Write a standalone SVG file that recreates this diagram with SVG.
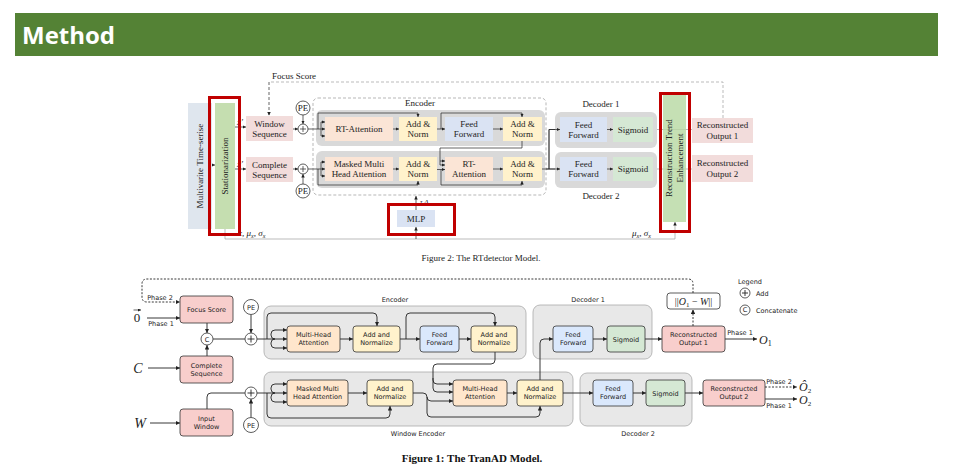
<svg xmlns="http://www.w3.org/2000/svg" width="953" height="473" viewBox="0 0 953 473">
<defs>
<style>
.t{font-family:"Liberation Serif",serif;font-size:9px;fill:#222;text-anchor:middle}
.b{font-family:"DejaVu Sans",sans-serif;font-size:6.5px;fill:#222;text-anchor:middle}
.bs{font-family:"DejaVu Sans",sans-serif;font-size:6.5px;fill:#222;text-anchor:start}
.m{font-family:"Liberation Serif","DejaVu Serif",serif;font-style:italic;fill:#222}
.mc{font-family:"Liberation Serif","DejaVu Serif",serif;font-style:italic;fill:#222;text-anchor:middle}
.u{font-family:"Liberation Serif","DejaVu Serif",serif;fill:#222;text-anchor:middle}
.ln{stroke:#222;stroke-width:0.7;fill:none}
.gl{stroke:#aaa;stroke-width:0.8;fill:none}
.bl{stroke:#222;stroke-width:0.9;fill:none}
.red{fill:none;stroke:#c00000;stroke-width:3}
.tg{fill:#d9d9d9}
.bg{fill:#e8e8e8;stroke:#aaa;stroke-width:0.8}
.bx{stroke:#333;stroke-width:0.8}
.cir{fill:#fff;stroke:#333;stroke-width:0.8}
</style>
<marker id="ta" viewBox="0 0 6 6" refX="6" refY="3" markerWidth="3.5" markerHeight="3.5" markerUnits="userSpaceOnUse" orient="auto"><path d="M0,0 L6,3 L0,6 z" fill="#222"/></marker>
<marker id="ba" viewBox="0 0 6 6" refX="6" refY="3" markerWidth="4.5" markerHeight="4.5" markerUnits="userSpaceOnUse" orient="auto"><path d="M0,0 L6,3 L0,6 z" fill="#222"/></marker>
<marker id="va" viewBox="0 0 6 6" refX="6" refY="3" markerWidth="3" markerHeight="3" markerUnits="userSpaceOnUse" orient="auto"><path d="M0,0 L6,3 L0,6 z" fill="#222"/></marker>
</defs>
<rect width="953" height="473" fill="#fff"/>

<g id="header">
<rect x="15" y="13" width="923" height="43" fill="#548235"/>
<text x="22" y="44" font-family="'Open Sans',sans-serif" font-weight="bold" font-size="24" fill="#fff">Method</text>
</g>

<!-- ================= Figure 2 (top) ================= -->
<g id="top-connectors">
<path d="M723,118 V82 H269" class="gl" stroke-dasharray="3,2"/>
<path d="M269,82 V115.5" class="ln" stroke-dasharray="3,2" marker-end="url(#ta)"/>
<path d="M209,165 H215" class="ln" marker-end="url(#ta)"/>
<path d="M235,127 H246" class="ln" marker-end="url(#ta)"/>
<path d="M235,169 H246" class="ln" marker-end="url(#ta)"/>
<path d="M293,129 H298" class="ln" marker-end="url(#ta)"/>
<path d="M293,169 H298" class="ln" marker-end="url(#ta)"/>
<path d="M303,115 V124" class="ln" marker-end="url(#ta)"/>
<path d="M303,184 V174" class="ln" marker-end="url(#ta)"/>
<path d="M653,129.5 H692" class="gl"/>
<path d="M653,169 H692" class="gl"/>
<path d="M225,229 V239 H675 V222" class="gl" marker-end="url(#ta)"/>
<path d="M416,239 V227" class="ln" marker-end="url(#ta)"/>
<path d="M416,210 V196" class="ln" marker-end="url(#ta)"/>
</g>

<text class="t" x="294" y="79">Focus Score</text>

<g id="multivariate">
<rect x="188" y="103" width="24" height="126" fill="#dfe6ee"/>
<text class="t" transform="translate(203,166) rotate(-90)">Multivarite Time-serise</text>
</g>
<g id="stationarization">
<rect x="215" y="103" width="20" height="126" fill="#c5deb0"/>
<text class="t" transform="translate(228,166) rotate(-90)">Stationarization</text>
</g>
<text class="m" x="237" y="125" font-size="9">x′</text>
<text class="m" x="237" y="167" font-size="9">x′</text>
<text class="m" x="238" y="236" font-size="9">x, μ<tspan font-size="6" dy="1.5">x</tspan><tspan dy="-1.5">, σ</tspan><tspan font-size="6" dy="1.5">x</tspan></text>
<text class="m" x="632" y="236" font-size="9">μ<tspan font-size="6" dy="1.5">x</tspan><tspan dy="-1.5">, σ</tspan><tspan font-size="6" dy="1.5">x</tspan></text>
<rect class="red" x="209.5" y="97.5" width="30" height="137"/>

<g id="window-seq">
<rect x="246" y="116" width="47" height="25" fill="#f2dcdb"/>
<text class="t" x="269.5" y="126.5">Window</text>
<text class="t" x="269.5" y="137">Sequence</text>
</g>
<g id="complete-seq">
<rect x="246" y="157" width="47" height="25" fill="#f2dcdb"/>
<text class="t" x="269.5" y="167.5">Complete</text>
<text class="t" x="269.5" y="178">Sequence</text>
</g>
<g id="pe-top">
<circle cx="303" cy="108" r="7" class="cir"/>
<text class="t" x="303" y="111" font-size="8">PE</text>
</g>
<g id="plus-top">
<circle cx="303" cy="129" r="5" class="cir"/>
<path d="M300,129 H306 M303,126 V132" class="ln"/>
</g>
<g id="plus-top2">
<circle cx="303" cy="169" r="5" class="cir"/>
<path d="M300,169 H306 M303,166 V172" class="ln"/>
</g>
<g id="pe-top2">
<circle cx="303" cy="191" r="7" class="cir"/>
<text class="t" x="303" y="194" font-size="8">PE</text>
</g>

<g id="encoder-top">
<rect x="313" y="98" width="233" height="97" rx="5" fill="none" stroke="#999" stroke-width="0.7" stroke-dasharray="3,2"/>
<text class="t" x="420" y="106">Encoder</text>
<rect class="tg" x="316" y="110" width="229" height="36" rx="6"/>
<rect class="tg" x="316" y="151" width="229" height="37" rx="6"/>
</g>
<g id="encoder-top-connectors">
<path d="M318,129 V113 H418 V117" class="ln" marker-end="url(#ta)"/>
<path d="M441,129 V113 H522 V117" class="ln" marker-end="url(#ta)"/>
<path d="M308,129 H325" class="ln" marker-end="url(#ta)"/>
<path d="M321,122 V136" class="ln"/>
<path d="M321,122 H325" class="ln" marker-end="url(#ta)"/>
<path d="M321,136 H325" class="ln" marker-end="url(#ta)"/>
<path d="M522,141 V148 H440 V165" class="ln"/>
<path d="M440,161 H445" class="ln" marker-end="url(#ta)"/>
<path d="M440,165 H445" class="ln" marker-end="url(#ta)"/>
<path d="M308,169 H325" class="ln" marker-end="url(#ta)"/>
<path d="M321,162 V176" class="ln"/>
<path d="M321,162 H325" class="ln" marker-end="url(#ta)"/>
<path d="M321,176 H325" class="ln" marker-end="url(#ta)"/>
<path d="M318,169 V185 H418 V181" class="ln" marker-end="url(#ta)"/>
<path d="M437,169.5 H445" class="ln" marker-end="url(#ta)"/>
<path d="M441,169.5 V185 H522 V181" class="ln" marker-end="url(#ta)"/>
<path d="M393,129 H399" class="ln" marker-end="url(#ta)"/>
<path d="M437,129 H445" class="ln" marker-end="url(#ta)"/>
<path d="M493,129 H503" class="ln" marker-end="url(#ta)"/>
<path d="M393,169 H399" class="ln" marker-end="url(#ta)"/>
<path d="M493,169 H503" class="ln" marker-end="url(#ta)"/>
<path d="M542,169 H560" class="ln" marker-end="url(#ta)"/>
<path d="M549,169 V129.5 H560" class="ln" marker-end="url(#ta)"/>
<path d="M607,129.5 H613" class="ln" marker-end="url(#ta)"/>
<path d="M607,169 H613" class="ln" marker-end="url(#ta)"/>
</g>
<g id="rt-attention">
<rect x="325" y="117" width="68" height="24" fill="#fbe5d6"/>
<text class="t" x="359" y="132">RT-Attention</text>
</g>
<g id="addnorm-1">
<rect x="399" y="117" width="38" height="24" fill="#fff2cc"/>
<text class="t" x="418" y="127">Add &amp;</text>
<text class="t" x="418" y="137">Norm</text>
</g>
<g id="ff-1">
<rect x="445" y="117" width="48" height="24" fill="#dae3f3"/>
<text class="t" x="469" y="127">Feed</text>
<text class="t" x="469" y="137">Forward</text>
</g>
<g id="addnorm-2">
<rect x="503" y="117" width="39" height="24" fill="#fff2cc"/>
<text class="t" x="522.5" y="127">Add &amp;</text>
<text class="t" x="522.5" y="137">Norm</text>
</g>
<g id="masked-top">
<rect x="325" y="157" width="68" height="24" fill="#fbe5d6"/>
<text class="t" x="359" y="167">Masked Multi</text>
<text class="t" x="359" y="177">Head Attention</text>
</g>
<g id="addnorm-3">
<rect x="399" y="157" width="38" height="24" fill="#fff2cc"/>
<text class="t" x="418" y="167">Add &amp;</text>
<text class="t" x="418" y="177">Norm</text>
</g>
<g id="rt-attention-2">
<rect x="445" y="157" width="48" height="24" fill="#fbe5d6"/>
<text class="t" x="469" y="167">RT-</text>
<text class="t" x="469" y="177">Attention</text>
</g>
<g id="addnorm-4">
<rect x="503" y="157" width="39" height="24" fill="#fff2cc"/>
<text class="t" x="522.5" y="167">Add &amp;</text>
<text class="t" x="522.5" y="177">Norm</text>
</g>

<g id="decoder1-top">
<rect class="tg" x="555" y="112" width="102" height="36" rx="6"/>
<text class="t" x="601" y="107">Decoder 1</text>
<rect x="560" y="117" width="47" height="25" fill="#dae3f3"/>
<text class="t" x="583.5" y="127.5">Feed</text>
<text class="t" x="583.5" y="137.5">Forward</text>
<rect x="613" y="117" width="40" height="25" fill="#d5e8d4"/>
<text class="t" x="633" y="132.5">Sigmoid</text>
</g>
<g id="decoder2-top">
<rect class="tg" x="555" y="152" width="102" height="36" rx="6"/>
<text class="t" x="601" y="199">Decoder 2</text>
<rect x="560" y="157" width="47" height="24" fill="#dae3f3"/>
<text class="t" x="583.5" y="167">Feed</text>
<text class="t" x="583.5" y="177">Forward</text>
<rect x="613" y="157" width="40" height="24" fill="#d5e8d4"/>
<text class="t" x="633" y="172">Sigmoid</text>
</g>
<g id="decoder-top-arrows">
<path d="M607,129.5 H613" class="ln" marker-end="url(#ta)"/>
<path d="M607,169 H613" class="ln" marker-end="url(#ta)"/>
<path d="M549,169 V129.5 H560" class="ln" marker-end="url(#ta)"/>
<path d="M546,169 H560" class="ln" marker-end="url(#ta)"/>
</g>
<g id="rte">
<rect x="663" y="95" width="23" height="127" fill="#c5e0b4"/>
<path d="M663,129.5 H686 M663,169 H686" stroke="#b0c9a0" stroke-width="0.6"/>
<text class="t" transform="translate(672,158) rotate(-90)">Reconstruction Trend</text>
<text class="t" transform="translate(683,158) rotate(-90)">Enhancement</text>
<rect class="red" x="660.5" y="93.5" width="29" height="138"/>
</g>
<g id="recon1-top">
<rect x="692" y="118" width="61" height="25" fill="#f2dcdb"/>
<text class="t" x="722.5" y="128">Reconstructed</text>
<text class="t" x="722.5" y="138.5">Output 1</text>
</g>
<g id="recon2-top">
<rect x="692" y="155" width="61" height="27" fill="#f2dcdb"/>
<text class="t" x="722.5" y="166">Reconstructed</text>
<text class="t" x="722.5" y="176.5">Output 2</text>
</g>
<g id="mlp">
<rect x="397" y="210" width="38" height="17" fill="#dae3f3"/>
<text class="t" x="416" y="221.5">MLP</text>
<text class="m" x="420" y="204" font-size="7">τ,Δ</text>
<rect class="red" x="388.5" y="204.5" width="66" height="30"/>
</g>
<text class="t" x="481" y="261" font-size="8.5">Figure 2: The RTdetector Model.</text>

<!-- ================= Figure 1 (bottom) ================= -->
<g id="bottom-containers">
<rect class="bg" x="264" y="306" width="262" height="53" rx="7"/>
<rect class="bg" x="264" y="372" width="309" height="54" rx="7"/>
<rect class="bg" x="533" y="305" width="119" height="54" rx="7"/>
<rect class="bg" x="580" y="373" width="112" height="53" rx="7"/>
<text class="b" x="395" y="302">Encoder</text>
<text class="b" x="418" y="436">Window Encoder</text>
<text class="b" x="588" y="302">Decoder 1</text>
<text class="b" x="638" y="436">Decoder 2</text>
</g>

<g id="bottom-connectors">
<path d="M693,293 V284 Q693,279 688,279 H147 Q142,279 142,284 V297 Q142,302 147,302 H180" class="bl" stroke-dasharray="2,1.5" marker-end="url(#ba)"/>
<path d="M693,326 V309.5" class="bl" stroke-dasharray="2,1.5" marker-end="url(#ba)"/>
<path d="M147,318 H180" class="bl" marker-end="url(#ba)"/>
<path d="M207,323 V333" class="bl" marker-end="url(#ba)"/>
<path d="M207,356 V345" class="bl" marker-end="url(#ba)"/>
<path d="M148,368 H180" class="bl" marker-end="url(#ba)"/>
<path d="M213,339 H245" class="bl"/>
<path d="M251,314.5 V333" class="bl" marker-end="url(#ba)"/>
<path d="M257,339 H287" class="bl" marker-end="url(#ba)"/>
<path d="M275,339 Q271,339 271,335 V334 Q271,330 275,330 H287" class="bl" marker-end="url(#ba)"/>
<path d="M275,339 Q271,339 271,343 V344 Q271,348 275,348 H287" class="bl" marker-end="url(#ba)"/>
<path d="M267,339 V317 Q267,313 271,313 H373 Q377,313 377,317 V326" class="bl" marker-end="url(#ba)"/>
<path d="M340,339 H353" class="bl" marker-end="url(#ba)"/>
<path d="M400,339 H420" class="bl" marker-end="url(#ba)"/>
<path d="M406,339 V317 Q406,313 410,313 H491 Q495,313 495,317 V326" class="bl" marker-end="url(#ba)"/>
<path d="M459,339 H471" class="bl" marker-end="url(#ba)"/>
<path d="M495,352 V360 Q495,364 491,364 H437 Q433,364 433,368 V380 Q433,384 437,384 H453" class="bl" marker-end="url(#ba)"/>
<path d="M433,378 V388 Q433,392 437,392 H453" class="bl" marker-end="url(#ba)"/>
<path d="M207,409 V397 Q207,393 211,393 H245" class="bl"/>
<path d="M251,417.5 V399" class="bl" marker-end="url(#ba)"/>
<path d="M150,423 H180" class="bl" marker-end="url(#ba)"/>
<path d="M257,393 H287" class="bl" marker-end="url(#ba)"/>
<path d="M275,393 Q271,393 271,389 V388 Q271,384 275,384 H287" class="bl" marker-end="url(#ba)"/>
<path d="M275,393 Q271,393 271,397 V398 Q271,402 275,402 H287" class="bl" marker-end="url(#ba)"/>
<path d="M267,393 V414 Q267,418 271,418 H386 Q390,418 390,414 V406" class="bl" marker-end="url(#ba)"/>
<path d="M348,393 H367" class="bl" marker-end="url(#ba)"/>
<path d="M413,393 H423 Q427,393 427,397 V397 Q427,401 431,401 H453" class="bl" marker-end="url(#ba)"/>
<path d="M427,397 V413 Q427,417 431,417 H536 Q540,417 540,413 V406" class="bl" marker-end="url(#ba)"/>
<path d="M507,393 H517" class="bl" marker-end="url(#ba)"/>
<path d="M563,393 H593" class="bl" marker-end="url(#ba)"/>
<path d="M540,380 V343 Q540,339 544,339 H553" class="bl" marker-end="url(#ba)"/>
<path d="M593,339 H607" class="bl" marker-end="url(#ba)"/>
<path d="M645,339 H662" class="bl" marker-end="url(#ba)"/>
<path d="M725,339 H757" class="bl" marker-end="url(#ba)"/>
<path d="M633,393 H646" class="bl" marker-end="url(#ba)"/>
<path d="M685,393 H703" class="bl" marker-end="url(#ba)"/>
<path d="M765,387 H797" class="bl" stroke-dasharray="2,1.5" marker-end="url(#ba)"/>
<path d="M765,399 H797" class="bl" marker-end="url(#ba)"/>
</g>

<text class="b" x="160" y="300" font-size="6">Phase 2</text>
<text class="b" x="161" y="326" font-size="6">Phase 1</text>
<text class="u" x="137" y="322" font-size="13">0</text>
<path d="M133.5,310 H141" stroke="#222" stroke-width="0.7" marker-end="url(#va)"/>
<text class="mc" x="138" y="373" font-size="14">C</text>
<text class="mc" x="140" y="428" font-size="14">W</text>

<g id="focus-score">
<rect class="bx" x="180" y="296" width="53" height="27" rx="3" fill="#f8cecc"/>
<text class="b" x="206.5" y="312">Focus Score</text>
</g>
<g id="concat">
<circle cx="207" cy="339" r="6" class="cir"/>
<text class="b" x="207" y="341.5">C</text>
</g>
<g id="complete-seq-b">
<rect class="bx" x="180" y="356" width="53" height="27" rx="3" fill="#f8cecc"/>
<text class="b" x="206.5" y="367.5">Complete</text>
<text class="b" x="206.5" y="375.5">Sequence</text>
</g>
<g id="input-window">
<rect class="bx" x="180" y="409" width="53" height="27" rx="3" fill="#f8cecc"/>
<text class="b" x="206.5" y="420.5">Input</text>
<text class="b" x="206.5" y="428.5">Window</text>
</g>
<g id="pe-b1">
<circle cx="251" cy="307" r="7.5" class="cir"/>
<text class="b" x="251" y="310" font-size="8">PE</text>
</g>
<g id="plus-b1">
<circle cx="251" cy="339" r="6" class="cir"/>
<path d="M247.5,339 H254.5 M251,335.5 V342.5" class="bl"/>
</g>
<g id="plus-b2">
<circle cx="251" cy="393" r="6" class="cir"/>
<path d="M247.5,393 H254.5 M251,389.5 V396.5" class="bl"/>
</g>
<g id="pe-b2">
<circle cx="251" cy="425" r="7.5" class="cir"/>
<text class="b" x="251" y="428" font-size="8">PE</text>
</g>

<g id="mha-enc">
<rect class="bx" x="287" y="326" width="53" height="26" rx="3" fill="#ffe6cc"/>
<text class="b" x="313.5" y="337">Multi-Head</text>
<text class="b" x="313.5" y="345">Attention</text>
</g>
<g id="an-enc1">
<rect class="bx" x="353" y="326" width="47" height="26" rx="3" fill="#fff2cc"/>
<text class="b" x="376.5" y="337">Add and</text>
<text class="b" x="376.5" y="345">Normalize</text>
</g>
<g id="ff-enc">
<rect class="bx" x="420" y="326" width="39" height="26" rx="3" fill="#dae8fc"/>
<text class="b" x="439.5" y="337">Feed</text>
<text class="b" x="439.5" y="345">Forward</text>
</g>
<g id="an-enc2">
<rect class="bx" x="471" y="326" width="46" height="26" rx="3" fill="#fff2cc"/>
<text class="b" x="494" y="337">Add and</text>
<text class="b" x="494" y="345">Normalize</text>
</g>
<g id="masked-b">
<rect class="bx" x="287" y="380" width="61" height="26" rx="3" fill="#ffe6cc"/>
<text class="b" x="317.5" y="391">Masked Multi</text>
<text class="b" x="317.5" y="399">Head Attention</text>
</g>
<g id="an-win1">
<rect class="bx" x="367" y="380" width="46" height="26" rx="3" fill="#fff2cc"/>
<text class="b" x="390" y="391">Add and</text>
<text class="b" x="390" y="399">Normalize</text>
</g>
<g id="mha-win">
<rect class="bx" x="453" y="380" width="54" height="26" rx="3" fill="#ffe6cc"/>
<text class="b" x="480" y="391">Multi-Head</text>
<text class="b" x="480" y="399">Attention</text>
</g>
<g id="an-win2">
<rect class="bx" x="517" y="380" width="46" height="26" rx="3" fill="#fff2cc"/>
<text class="b" x="540" y="391">Add and</text>
<text class="b" x="540" y="399">Normalize</text>
</g>
<g id="ff-dec1">
<rect class="bx" x="553" y="326" width="40" height="26" rx="3" fill="#dae8fc"/>
<text class="b" x="573" y="337">Feed</text>
<text class="b" x="573" y="345">Forward</text>
</g>
<g id="sig-dec1">
<rect class="bx" x="607" y="326" width="38" height="26" rx="3" fill="#d5e8d4"/>
<text class="b" x="626" y="341.5">Sigmoid</text>
</g>
<g id="recon1-b">
<rect class="bx" x="662" y="326" width="63" height="26" rx="3" fill="#f8cecc"/>
<text class="b" x="693.5" y="337">Reconstructed</text>
<text class="b" x="693.5" y="345">Output 1</text>
</g>
<g id="ff-dec2">
<rect class="bx" x="593" y="380" width="40" height="26" rx="3" fill="#dae8fc"/>
<text class="b" x="613" y="391">Feed</text>
<text class="b" x="613" y="399">Forward</text>
</g>
<g id="sig-dec2">
<rect class="bx" x="646" y="380" width="39" height="26" rx="3" fill="#d5e8d4"/>
<text class="b" x="665.5" y="395.5">Sigmoid</text>
</g>
<g id="recon2-b">
<rect class="bx" x="703" y="380" width="62" height="26" rx="3" fill="#f8cecc"/>
<text class="b" x="734" y="391">Reconstructed</text>
<text class="b" x="734" y="399">Output 2</text>
</g>
<g id="norm-box">
<rect class="bx" x="667" y="293" width="53" height="16" rx="3" fill="#fff"/>
<text class="u" x="693.5" y="305" font-size="10">||<tspan font-style="italic">O</tspan><tspan font-size="7" dy="2">1</tspan><tspan dy="-2"> − </tspan><tspan font-style="italic">W</tspan>||</text>
</g>
<text class="b" x="740" y="335" font-size="6">Phase 1</text>
<text class="m" x="759" y="344" font-size="12">O<tspan font-size="8" dy="2" font-style="normal">1</tspan></text>
<text class="b" x="779" y="384" font-size="6">Phase 2</text>
<text class="m" x="799" y="390.5" font-size="12">Ô<tspan font-size="7" dy="2" font-style="normal">2</tspan></text>
<text class="b" x="779" y="408" font-size="6">Phase 1</text>
<text class="m" x="799" y="404" font-size="12">O<tspan font-size="7" dy="2" font-style="normal">2</tspan></text>

<g id="legend">
<text class="b" x="750" y="284">Legend</text>
<circle cx="745" cy="293" r="5" class="cir"/>
<path d="M742,293 H748 M745,290 V296" class="bl"/>
<text class="bs" x="756" y="295.5">Add</text>
<circle cx="745" cy="310" r="5" class="cir"/>
<text class="b" x="745" y="312.3">C</text>
<text class="bs" x="756" y="312.5">Concatenate</text>
</g>
<text x="472" y="462" font-family="'Liberation Serif',serif" font-weight="bold" font-size="11" fill="#111" text-anchor="middle">Figure 1: The TranAD Model.</text>
</svg>
